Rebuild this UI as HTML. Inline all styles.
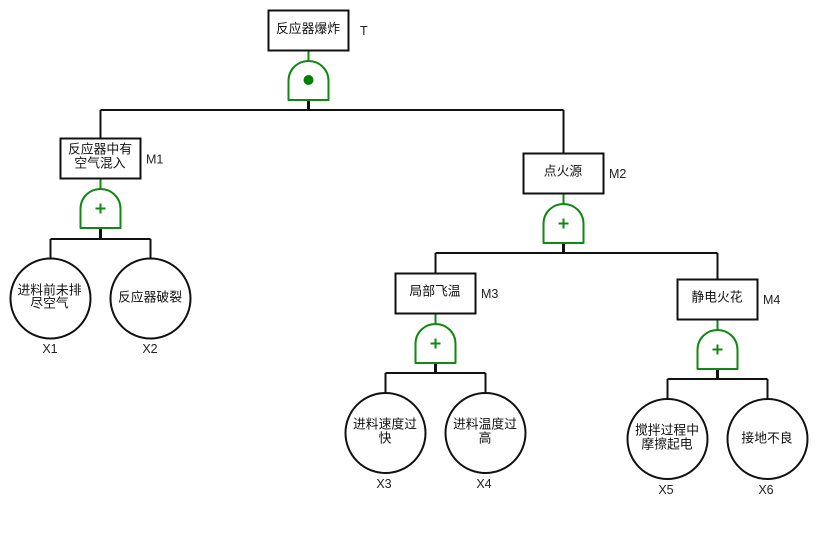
<!DOCTYPE html>
<html>
<head>
<meta charset="utf-8">
<style>
html,body{margin:0;padding:0;background:#fff;}
svg{display:block;}
text{fill:#111;}
.c{font-family:"Liberation Sans","Noto Sans CJK SC",sans-serif;font-size:12.8px;text-anchor:middle;}
.l{font-family:"Liberation Sans",sans-serif;font-size:12.5px;fill:#222;}
.m{text-anchor:middle;}
.b{fill:#fff;stroke:#111;stroke-width:2;}
.k{stroke:#111;stroke-width:2;fill:none;}
.t{stroke:#111;stroke-width:3;fill:none;}
.g{stroke:#118811;stroke-width:2;fill:#fff;stroke-linejoin:round;}
.gl{stroke:#118811;stroke-width:2;fill:none;}
</style>
</head>
<body>
<svg width="817" height="539" viewBox="0 0 817 539" xmlns="http://www.w3.org/2000/svg">
<rect width="817" height="539" fill="#fff"/>

<!-- black connectors -->
<path class="k" d="M100.500 110H563.500M100.500 110V138M563.500 110V153"/>
<path class="k" d="M50.500 239H150.500M50.500 239V258M150.500 239V258"/>
<path class="k" d="M435.500 253H717.500M435.500 253V273M717.500 253V279"/>
<path class="k" d="M385.500 373H485.500M385.500 373V393M485.500 373V393"/>
<path class="k" d="M667.500 379H767.500M667.500 379V399M767.500 379V399"/>
<path class="t" d="M308.500 100V110M100.500 228V239M563.500 243V253M435.500 363V373M717.500 369V379"/>

<!-- green stubs -->
<path class="gl" d="M308.500 51V61M100.500 179V189M563.500 194V204M435.500 314V324M717.500 320V330"/>

<!-- gates -->
<path class="g" d="M288.500 100V81C288.500 69 298 61 308.500 61C319 61 328.500 69 328.500 81V100Z"/>
<circle cx="308.500" cy="80" r="5" fill="#008000"/>

<path class="g" d="M80.500 228V209C80.500 197 90 189 100.500 189C111 189 120.500 197 120.500 209V228Z"/>
<path class="gl" d="M95.500 208.500H105.500M100.500 203.500V213.500"/>

<path class="g" d="M543.500 243V224C543.500 212 553 204 563.500 204C574 204 583.500 212 583.500 224V243Z"/>
<path class="gl" d="M558.500 223.500H568.500M563.500 218.500V228.500"/>

<path class="g" d="M415.500 363V344C415.500 332 425 324 435.500 324C446 324 455.500 332 455.500 344V363Z"/>
<path class="gl" d="M430.500 343.500H440.500M435.500 338.500V348.500"/>

<path class="g" d="M697.500 369V350C697.500 338 707 330 717.500 330C728 330 737.500 338 737.500 350V369Z"/>
<path class="gl" d="M712.500 349.500H722.500M717.500 344.500V354.500"/>

<!-- boxes -->
<rect class="b" x="268.500" y="10.500" width="80" height="40"/>
<rect class="b" x="60.500" y="138.500" width="80" height="40"/>
<rect class="b" x="523.500" y="153.500" width="80" height="40"/>
<rect class="b" x="395.500" y="273.500" width="80" height="40"/>
<rect class="b" x="677.500" y="279.500" width="80" height="40"/>

<!-- circles -->
<circle class="b" cx="50.500" cy="298.500" r="40"/>
<circle class="b" cx="150.500" cy="298.500" r="40"/>
<circle class="b" cx="385.500" cy="433" r="40"/>
<circle class="b" cx="485.500" cy="433" r="40"/>
<circle class="b" cx="667.500" cy="439" r="40"/>
<circle class="b" cx="767.500" cy="439" r="40"/>

<!-- node text -->
<text class="c" x="308" y="33">反应器爆炸</text>
<text class="c" x="100" y="153.500">反应器中有</text>
<text class="c" x="100" y="167.500">空气混入</text>
<text class="c" x="563" y="175.500">点火源</text>
<text class="c" x="435" y="295.500">局部飞温</text>
<text class="c" x="717" y="301.500">静电火花</text>
<text class="c" x="49.500" y="294.500">进料前未排</text>
<text class="c" x="49.500" y="307.500">尽空气</text>
<text class="c" x="150" y="301.500">反应器破裂</text>
<text class="c" x="385" y="428.500">进料速度过</text>
<text class="c" x="385" y="442.500">快</text>
<text class="c" x="485" y="428.500">进料温度过</text>
<text class="c" x="485" y="442.500">高</text>
<text class="c" x="667" y="434.500">搅拌过程中</text>
<text class="c" x="667" y="448.500">摩擦起电</text>
<text class="c" x="767" y="442.500">接地不良</text>

<!-- labels -->
<text class="l" x="360" y="35">T</text>
<text class="l" x="146" y="163.500">M1</text>
<text class="l" x="609" y="178">M2</text>
<text class="l" x="481" y="298">M3</text>
<text class="l" x="763" y="304">M4</text>
<text class="l m" x="50" y="353">X1</text>
<text class="l m" x="150" y="353">X2</text>
<text class="l m" x="384" y="488">X3</text>
<text class="l m" x="484" y="488">X4</text>
<text class="l m" x="666" y="494">X5</text>
<text class="l m" x="766" y="494">X6</text>
</svg>
</body>
</html>
